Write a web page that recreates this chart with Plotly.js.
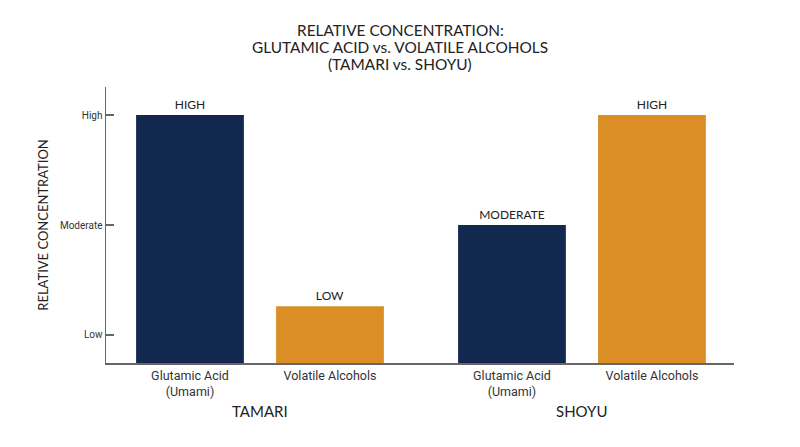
<!DOCTYPE html>
<html>
<head>
<meta charset="utf-8">
<script src="https://cdn.plot.ly/plotly-3.0.1.min.js"></script>
<style>html,body{margin:0;padding:0;background:#fff;}#chart{width:800px;height:447px;}</style>
</head>
<body>
<div id="chart"></div>
<script>
// Data
var groups = ["TAMARI", "SHOYU"];
var compounds = ["Glutamic Acid<br>(Umami)", "Volatile Alcohols"];
var tamariValues = [3, 1.26];
var shoyuValues = [2, 3];
var tamariLabels = ["HIGH", "LOW"];
var shoyuLabels = ["MODERATE", "HIGH"];
var levelVals = [1, 2, 3];
var levelText = ["Low", "Moderate", "High"];
var titleLines = ["RELATIVE CONCENTRATION:", "GLUTAMIC ACID vs. VOLATILE ALCOHOLS", "(TAMARI vs. SHOYU)"];
var yTitle = "RELATIVE CONCENTRATION";

// Layout helpers
var groupStep = 2.3;
var yMin = 0.745;
var colors = ["#13284f", "#db8e26"];
var seriesValues = [tamariValues, shoyuValues];
var seriesLabels = [tamariLabels, shoyuLabels];
var font = "Lato, 'Noto Sans', sans-serif";

var xs = [], ys = [], txt = [], cols = [], tickv = [], tickt = [];
groups.forEach(function (g, gi) {
  compounds.forEach(function (c, ci) {
    var x = gi * groupStep + ci;
    xs.push(x);
    ys.push(seriesValues[gi][ci] - yMin);
    txt.push(seriesLabels[gi][ci]);
    cols.push(colors[ci]);
    tickv.push(x);
    tickt.push(c);
  });
});

var trace = {
  type: "bar",
  x: xs,
  y: ys,
  base: yMin,
  width: 0.77,
  text: txt,
  textposition: "outside",
  cliponaxis: false,
  textfont: {family: font, size: 12, color: "#222"},
  marker: {color: cols},
  hoverinfo: "skip"
};

var annotations = groups.map(function (g, gi) {
  return {
    x: gi * groupStep + 0.5, xref: "x",
    y: 0, yref: "paper", yanchor: "middle", yshift: -48,
    text: g, showarrow: false,
    font: {family: font, size: 15, color: "#222"}
  };
});
// Title lines (plot top is at 87px, plot spans 106..734px horizontally)
var lineCenters = [30, 47, 64];
titleLines.forEach(function (t, i) {
  annotations.push({
    x: (400 - 106) / 628, xref: "paper", xanchor: "center",
    y: 1, yref: "paper", yanchor: "middle", yshift: 87 - lineCenters[i],
    text: t, showarrow: false,
    font: {family: font, size: 15.4, color: "#222"}
  });
});

var layout = {
  width: 800, height: 447,
  margin: {l: 106, r: 66, t: 87, b: 84},
  paper_bgcolor: "#fff", plot_bgcolor: "#fff",
  showlegend: false,
  xaxis: {
    range: [-0.6, 3.886],
    tickvals: tickv, ticktext: tickt,
    showline: true, linecolor: "#666", linewidth: 1.5,
    showgrid: false, zeroline: false, ticks: "",
    tickfont: {family: "Roboto, 'Noto Sans', sans-serif", size: 12.5, color: "#333"}
  },
  yaxis: {
    range: [yMin, 3.255],
    tickvals: levelVals, ticktext: levelText,
    showline: true, linecolor: "#666", linewidth: 1.5,
    showgrid: false, zeroline: false,
    ticks: "inside", ticklen: 8, tickcolor: "#666", tickwidth: 1.2,
    tickfont: {family: "Roboto, 'Noto Sans', sans-serif", size: 10, color: "#333"},
    title: {text: yTitle, standoff: 8,
      font: {family: font, size: 13, color: "#222"}}
  },
  annotations: annotations
};

Plotly.newPlot("chart", [trace], layout, {displayModeBar: false, staticPlot: true});
</script>
</body>
</html>
